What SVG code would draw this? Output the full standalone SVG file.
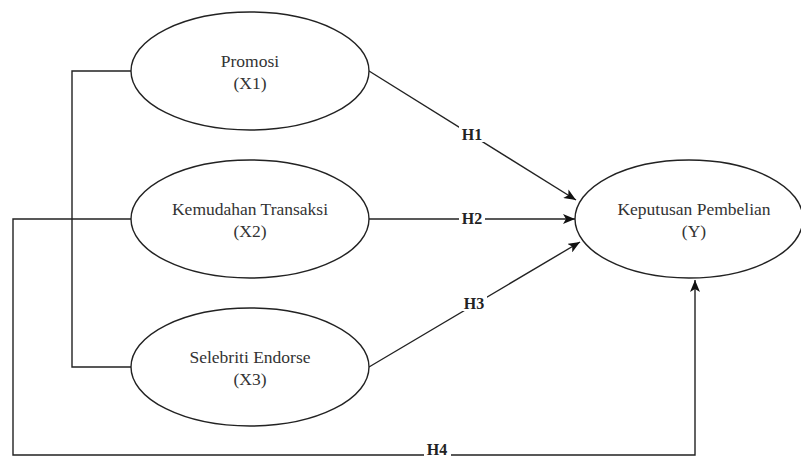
<svg xmlns="http://www.w3.org/2000/svg" width="801" height="459" viewBox="0 0 801 459">
<style>
.node ellipse{fill:#fff;stroke:#222;stroke-width:1.4}
.node text{font-family:"Liberation Serif","Times New Roman",serif;font-size:17.5px;fill:#333;text-anchor:middle}
.conn{fill:none;stroke:#222;stroke-width:1.4}
.lbl{font-family:"Liberation Serif","Times New Roman",serif;font-size:16px;font-weight:bold;fill:#222;text-anchor:middle}
.lblbg{fill:#fff}
</style>
<defs>
<marker id="arr" viewBox="0 0 12 10" refX="12" refY="5" markerWidth="12" markerHeight="10" markerUnits="userSpaceOnUse" orient="auto">
<path d="M0,0 L12,5 L0,10 L3,5 Z" fill="#111"/>
</marker>
</defs>
<rect width="801" height="459" fill="#fff"/>
<g id="connectors">
<polyline class="conn" points="131,71 72,71 72,367 131,367"/>
<polyline class="conn" points="131,219 13,219 13,455 695,455 695,280" marker-end="url(#arr)"/>
<line class="conn" x1="369" y1="71" x2="576" y2="200" marker-end="url(#arr)"/>
<line class="conn" x1="369" y1="219" x2="575" y2="219" marker-end="url(#arr)"/>
<line class="conn" x1="369" y1="367" x2="580" y2="242" marker-end="url(#arr)"/>
<rect class="lblbg" x="459" y="126" width="26" height="16"/>
<text class="lbl" x="472" y="140">H1</text>
<rect class="lblbg" x="459" y="211" width="26" height="15"/>
<text class="lbl" x="472" y="224">H2</text>
<rect class="lblbg" x="461" y="295" width="26" height="16"/>
<text class="lbl" x="474" y="309">H3</text>
<rect class="lblbg" x="424" y="443" width="27" height="16"/>
<text class="lbl" x="437" y="455">H4</text>
</g>
<g id="x1" class="node">
<ellipse cx="250" cy="71" rx="119" ry="59"/>
<text x="250" y="67">Promosi</text>
<text x="250" y="89">(X1)</text>
</g>
<g id="x2" class="node">
<ellipse cx="250" cy="219" rx="119" ry="59"/>
<text x="250" y="215">Kemudahan Transaksi</text>
<text x="250" y="237">(X2)</text>
</g>
<g id="x3" class="node">
<ellipse cx="250" cy="367" rx="119" ry="59"/>
<text x="250" y="363">Selebriti Endorse</text>
<text x="250" y="385">(X3)</text>
</g>
<g id="y" class="node">
<ellipse cx="689" cy="219" rx="114" ry="59"/>
<text x="694" y="215">Keputusan Pembelian</text>
<text x="694" y="237">(Y)</text>
</g>
</svg>
